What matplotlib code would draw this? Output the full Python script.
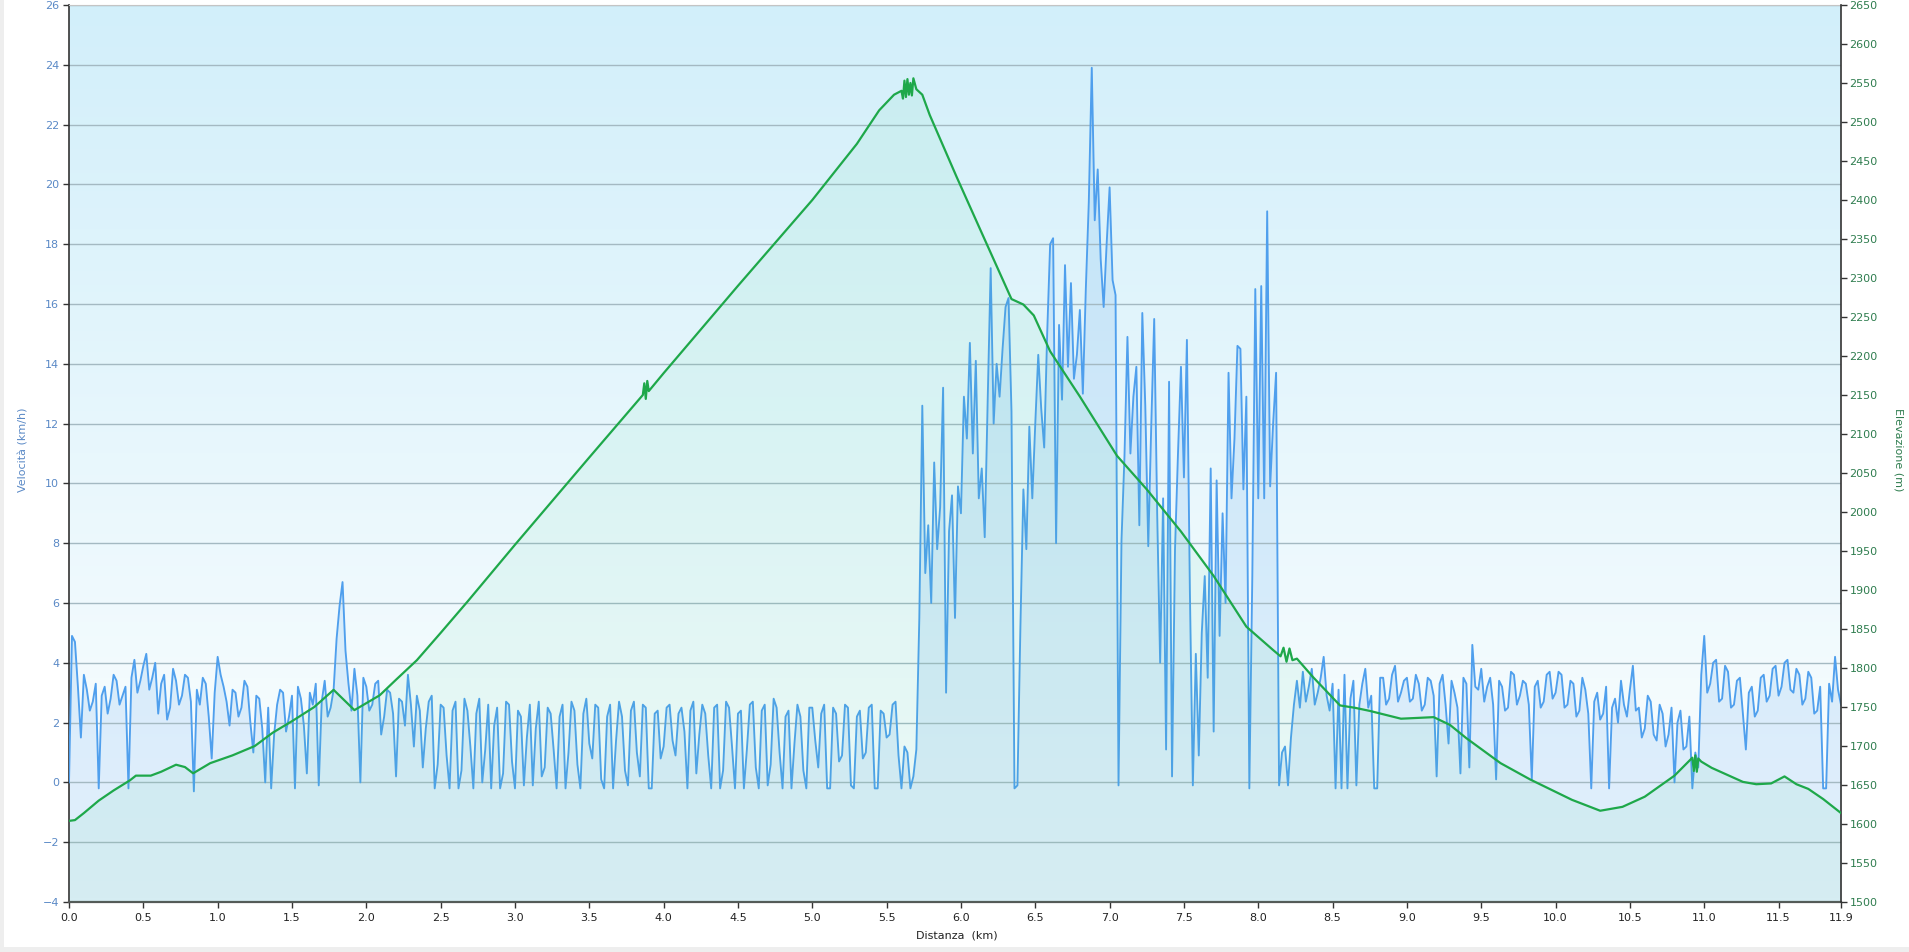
import numpy as np
import matplotlib
matplotlib.use("Agg")
import matplotlib.pyplot as plt
from matplotlib.colors import LinearSegmentedColormap
from matplotlib.patches import Rectangle
from matplotlib.ticker import FormatStrFormatter

# ---------------- data ----------------
STEP_KM = 0.02  # sampling step of the speed readings (km)

speed_0_2km = [0.0, 4.9, 4.7, 3.2, 1.5, 3.6, 3.1, 2.4, 2.7, 3.3,
               -0.2, 2.9, 3.2, 2.3, 2.8, 3.6, 3.4, 2.6, 2.9, 3.2,
               -0.2, 3.5, 4.1, 3.0, 3.4, 3.9, 4.3, 3.1, 3.5, 4.0,
               2.3, 3.3, 3.6, 2.1, 2.5, 3.8, 3.4, 2.6, 2.9, 3.6,
               3.5, 2.7, -0.3, 3.1, 2.6, 3.5, 3.3, 2.2, 0.8, 3.0,
               4.2, 3.6, 3.2, 2.7, 1.9, 3.1, 3.0, 2.2, 2.5, 3.4,
               3.2, 2.0, 1.0, 2.9, 2.8, 1.8, 0.0, 2.5, -0.2, 1.6,
               2.6, 3.1, 3.0, 1.7, 2.2, 2.9, -0.2, 3.2, 2.8, 1.9,
               0.3, 3.0, 2.6, 3.3, -0.1, 2.7, 3.4, 2.2, 2.5, 3.1,
               4.8, 5.9, 6.7, 4.4, 3.3, 2.4, 3.8, 2.9, 0.0, 3.5]
speed_2_4km = [3.2, 2.4, 2.6, 3.3, 3.4, 1.6, 2.2, 3.1, 3.0, 2.3,
               0.2, 2.8, 2.7, 1.9, 3.6, 2.6, 1.2, 2.9, 2.4, 0.5,
               1.8, 2.7, 2.9, -0.2, 0.6, 2.6, 2.5, 0.9, -0.2, 2.4,
               2.7, -0.2, 0.4, 2.8, 2.4, 1.2, -0.2, 2.3, 2.8, 0.0,
               1.1, 2.6, -0.2, 1.9, 2.5, -0.2, 0.3, 2.7, 2.6, 0.7,
               -0.2, 2.4, 2.2, -0.1, 1.5, 2.6, -0.1, 1.8, 2.7, 0.2,
               0.5, 2.5, 2.3, 1.1, -0.2, 2.2, 2.6, -0.2, 1.0, 2.7,
               2.4, 0.6, -0.2, 2.3, 2.8, 1.3, 0.8, 2.6, 2.5, 0.1,
               -0.2, 2.2, 2.6, -0.2, 1.4, 2.7, 2.2, 0.4, -0.1, 2.4,
               2.7, 1.0, 0.2, 2.6, 2.5, -0.2, -0.2, 2.3, 2.4, 0.8]
speed_4_6km = [1.2, 2.5, 2.6, 1.4, 0.9, 2.3, 2.5, 1.7, -0.2, 2.4,
               2.7, 0.3, 1.6, 2.6, 2.3, 0.9, -0.2, 2.5, 2.6, -0.2,
               0.4, 2.7, 2.5, 1.2, -0.2, 2.3, 2.4, -0.2, 1.1, 2.6,
               2.7, 0.5, -0.2, 2.4, 2.6, -0.1, 0.6, 2.8, 2.5, 1.0,
               -0.2, 2.2, 2.4, -0.2, 1.3, 2.6, 2.2, 0.4, -0.2, 2.5,
               2.5, 1.4, 0.5, 2.3, 2.6, -0.2, -0.2, 2.5, 2.3, 0.7,
               0.9, 2.6, 2.5, -0.1, -0.2, 2.2, 2.4, 0.8, 1.0, 2.5,
               2.6, -0.2, -0.2, 2.4, 2.3, 1.5, 1.6, 2.6, 2.7, 0.9,
               -0.2, 1.2, 1.0, -0.2, 0.2, 1.1, 5.5, 12.6, 7.0, 8.6,
               6.0, 10.7, 7.8, 9.2, 13.2, 3.0, 8.4, 9.6, 5.5, 9.9]
speed_6_8km = [9.0, 12.9, 11.5, 14.7, 11.0, 14.1, 9.5, 10.5, 8.2, 12.8,
               17.2, 12.0, 14.0, 12.9, 14.5, 15.9, 16.2, 12.4, -0.2, -0.1,
               5.2, 9.8, 7.8, 11.9, 9.5, 12.0, 14.3, 12.5, 11.2, 15.0,
               18.0, 18.2, 8.0, 15.3, 12.8, 17.3, 13.9, 16.7, 13.5, 14.3,
               15.8, 13.0, 16.5, 19.4, 23.9, 18.8, 20.5, 17.5, 15.9, 18.0,
               19.9, 16.8, 16.3, -0.1, 8.1, 10.9, 14.9, 11.0, 12.9, 13.9,
               8.6, 15.7, 12.6, 7.9, 11.9, 15.5, 9.0, 4.0, 9.5, 1.1,
               13.4, 0.2, 7.8, 11.0, 13.9, 10.2, 14.8, 6.4, -0.1, 4.3,
               0.9, 5.0, 6.9, 3.5, 10.5, 1.7, 10.1, 4.9, 9.0, 6.0,
               13.7, 9.5, 11.5, 14.6, 14.5, 9.8, 12.9, -0.2, 6.9, 16.5]
speed_8_10km = [9.5, 16.6, 9.5, 19.1, 9.9, 12.0, 13.7, -0.1, 1.0, 1.2,
                -0.1, 1.5, 2.6, 3.4, 2.5, 3.7, 2.7, 3.2, 3.8, 2.6,
                3.0, 3.5, 4.2, 2.9, 2.4, 3.3, -0.2, 3.1, -0.2, 3.6,
                -0.2, 2.8, 3.4, -0.1, 2.6, 3.3, 3.8, 2.5, 2.9, -0.2,
                -0.2, 3.5, 3.5, 2.6, 2.8, 3.6, 3.9, 2.7, 3.0, 3.4,
                3.5, 2.7, 2.8, 3.6, 3.3, 2.4, 2.6, 3.5, 3.4, 2.9,
                0.2, 3.3, 3.6, 2.6, 1.3, 3.4, 3.0, 2.5, 0.3, 3.5,
                3.3, 0.5, 4.6, 3.2, 3.1, 3.8, 2.7, 3.2, 3.5, 2.6,
                0.1, 3.4, 3.2, 2.4, 2.5, 3.7, 3.6, 2.6, 2.9, 3.4,
                3.3, 2.6, 0.1, 3.2, 3.4, 2.5, 2.7, 3.6, 3.7, 2.8]
speed_10_12km = [3.0, 3.7, 3.6, 2.5, 2.6, 3.4, 3.3, 2.2, 2.4, 3.5,
                 3.1, 2.3, -0.2, 2.7, 3.0, 2.1, 2.3, 3.2, -0.2, 2.5,
                 2.8, 2.0, 3.4, 2.6, 2.2, 3.1, 3.9, 2.4, 2.5, 1.5,
                 1.8, 2.9, 2.7, 1.6, 1.4, 2.6, 2.3, 1.2, 1.6, 2.5,
                 0.0, 2.0, 2.4, 1.1, 1.2, 2.2, -0.2, 1.0, 0.5, 3.6,
                 4.9, 3.0, 3.3, 4.0, 4.1, 2.7, 2.8, 3.9, 3.7, 2.5,
                 2.6, 3.4, 3.5, 2.3, 1.1, 3.0, 3.2, 2.2, 2.4, 3.5,
                 3.6, 2.7, 2.9, 3.8, 3.9, 2.9, 3.2, 4.0, 4.1, 3.1,
                 3.0, 3.8, 3.6, 2.6, 2.8, 3.7, 3.5, 2.3, 2.4, 3.2,
                 -0.2, -0.2, 3.3, 2.7, 4.2, 3.1, 2.6]

elev_km = [0.00, 0.04, 0.10, 0.20, 0.30, 0.41, 0.45, 0.55, 0.62, 0.72,
           0.78, 0.835, 0.95, 1.10, 1.25, 1.37, 1.51, 1.65, 1.78, 1.92,
           2.09, 2.20, 2.34, 2.50, 2.68, 3.00, 3.50, 3.86, 3.87, 3.88,
           3.89, 3.90, 4.00, 4.50, 5.00, 5.30, 5.45, 5.55, 5.60, 5.61,
           5.62, 5.63, 5.64, 5.65, 5.66, 5.67, 5.68, 5.70, 5.74, 5.79,
           5.97, 6.13, 6.34, 6.42, 6.49, 6.60, 6.80, 7.05, 7.25, 7.48,
           7.70, 7.92, 8.10, 8.15, 8.17, 8.19, 8.21, 8.23, 8.26, 8.37,
           8.55, 8.65, 8.75, 8.96, 9.18, 9.29, 9.40, 9.63, 9.83, 10.11,
           10.30, 10.45, 10.60, 10.80, 10.92, 10.93, 10.94, 10.95, 10.96, 10.98,
           11.05, 11.26, 11.35, 11.45, 11.54, 11.62, 11.70, 11.80, 11.92]
elev_m = [1604, 1605, 1614, 1630, 1643, 1656, 1662, 1662, 1667, 1676,
          1673, 1665, 1678, 1688, 1700, 1717, 1733, 1750, 1772, 1746,
          1765, 1785, 1810, 1845, 1885, 1958, 2070, 2150, 2165, 2145,
          2168, 2155, 2178, 2290, 2400, 2472, 2515, 2535, 2540, 2530,
          2553, 2532, 2555, 2535, 2550, 2534, 2556, 2542, 2535, 2509,
          2430, 2362, 2273, 2266, 2252, 2206, 2148, 2072, 2029, 1975,
          1918, 1853, 1823, 1815, 1826, 1808, 1825, 1810, 1812, 1788,
          1752, 1749, 1745, 1735, 1737, 1727, 1710, 1678, 1657, 1631,
          1617, 1622, 1635, 1662, 1685, 1668, 1688, 1667, 1684, 1680,
          1672, 1654, 1651, 1652, 1661, 1651, 1645, 1632, 1614]

x_ticks = [0.0, 0.5, 1.0, 1.5, 2.0, 2.5, 3.0, 3.5, 4.0, 4.5, 5.0, 5.5,
           6.0, 6.5, 7.0, 7.5, 8.0, 8.5, 9.0, 9.5, 10.0, 10.5, 11.0, 11.5, 11.92]
speed_ticks = list(range(-4, 27, 2))
elev_ticks = list(range(1500, 2651, 50))

speed = np.array(speed_0_2km + speed_2_4km + speed_4_6km + speed_6_8km
                 + speed_8_10km + speed_10_12km, dtype=float)
dist = np.arange(len(speed)) * STEP_KM
X_MAX = 11.92

# ---------------- figure ----------------
W, H = 1909, 952
fig = plt.figure(figsize=(W / 100, H / 100), dpi=100)
fig.patch.set_facecolor('white')
fig.patches.append(Rectangle((0, 0), 4 / W, 1, transform=fig.transFigure,
                             facecolor='#eeeeee', edgecolor='none', zorder=0))
fig.patches.append(Rectangle((0, 0), 1, 5 / H, transform=fig.transFigure,
                             facecolor='#eeeeee', edgecolor='none', zorder=0))

ax = fig.add_axes([69 / W, 50 / H, (1841 - 69) / W, (902 - 5) / H])
ax.set_xlim(0, X_MAX)
ax.set_ylim(-4, 26)

bg = LinearSegmentedColormap.from_list('bg', ['#d2effa', '#feffff'])
ax.imshow(np.linspace(0, 1, 256).reshape(-1, 1), cmap=bg, origin='upper',
          extent=[0, X_MAX, -4, 26], aspect='auto', zorder=0)

ax.fill_between(dist, speed, -4, color='#4a9cec', alpha=0.15, lw=0, zorder=1)
ax.plot(dist, speed, color='#4f9fed', lw=1.35, zorder=3)

ax.set_yticks(speed_ticks)
ax.set_xticks(x_ticks)
ax.xaxis.set_major_formatter(FormatStrFormatter('%.1f'))
ax.yaxis.grid(True, color='#a4b9c2', lw=1.0)
ax.tick_params(axis='y', direction='out', length=4, width=1, color='#333333',
               labelcolor='#5a89c6', labelsize=8, pad=3)
ax.tick_params(axis='x', direction='out', length=4, width=1, color='#333333',
               labelcolor='#222222', labelsize=8, pad=4)
ax.spines['left'].set_color('#333333')
ax.spines['left'].set_linewidth(1.2)
ax.spines['bottom'].set_color('#555555')
ax.spines['bottom'].set_linewidth(1.6)
ax.spines['top'].set_color('#c4c4c4')
ax.spines['right'].set_visible(False)

ax2 = ax.twinx()
ax2.set_ylim(1500, 2650)
ax2.fill_between(elev_km, elev_m, 1500, color='#3fd08c', alpha=0.08, lw=0, zorder=1)
ax2.plot(elev_km, elev_m, color='#1ea84a', lw=1.6, zorder=4)
ax2.set_yticks(elev_ticks)
ax2.tick_params(axis='y', direction='out', length=4, width=1, color='#333333',
                labelcolor='#2f7d4f', labelsize=8, pad=2)
for s in ('left', 'top', 'bottom'):
    ax2.spines[s].set_visible(False)
ax2.spines['right'].set_color('#333333')
ax2.spines['right'].set_linewidth(1.2)

fig.text(24 / W, 1 - 450 / H, 'Velocità (km/h)', rotation=90, color='#5a89c6',
         fontsize=8, ha='center', va='center')
fig.text(1898 / W, 1 - 450 / H, 'Elevazione (m)', rotation=270, color='#2f7d4f',
         fontsize=8, ha='center', va='center')
fig.text(957 / W, 1 - 935 / H, 'Distanza  (km)', color='#222222',
         fontsize=8, ha='center', va='center')

fig.savefig('out.png', dpi=100)
